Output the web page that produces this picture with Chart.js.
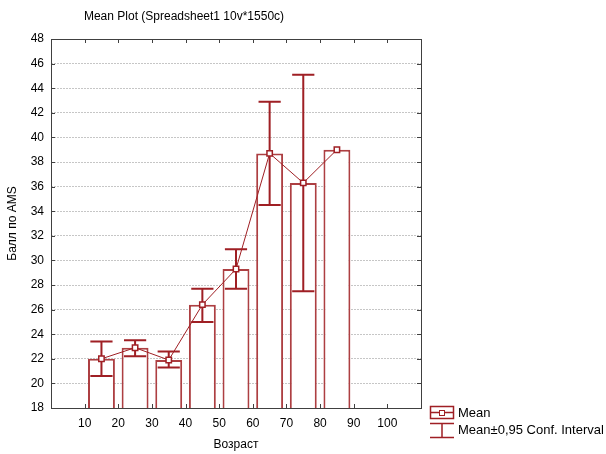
<!DOCTYPE html>
<html>
<head>
<meta charset="utf-8">
<script src="https://cdn.jsdelivr.net/npm/chart.js@4.4.1/dist/chart.umd.min.js"></script>
<style>
  body { margin: 0; background: #fff; }
  #wrap { width: 606px; height: 454px; }
</style>
</head>
<body>
<div id="wrap"><canvas id="meanPlot" width="606" height="454"></canvas></div>
<script>
// age groups (bar centres) and values
var ages = [15, 25, 35, 45, 55, 65, 75, 85];
var means = [22.0, 22.9, 21.9, 26.4, 29.3, 38.7, 36.3, 39.0];
var ciUpper = [23.4, 23.5, 22.6, 27.7, 30.9, 42.9, 45.1, null];
var ciLower = [20.6, 22.2, 21.3, 25.0, 27.7, 34.5, 27.5, null];
var xTicks = [10, 20, 30, 40, 50, 60, 70, 80, 90, 100];

var dark = '#9f1f24';
var barLine = '#ad3f42';
var font = { family: 'Liberation Sans, Arial, sans-serif', size: 12 };

var points = ages.map(function(a, i) { return { x: a, y: means[i] }; });

var framePlugin = {
  id: 'frame',
  beforeDatasetsDraw: function(chart) {
    var a = chart.chartArea, ctx = chart.ctx;
    var xs = chart.scales.x, ys = chart.scales.y;
    ctx.save();
    ctx.strokeStyle = '#404040';
    ctx.lineWidth = 1;
    ctx.beginPath();
    // inward tick marks
    ys.ticks.forEach(function(t) {
      var py = Math.round(ys.getPixelForValue(t.value)) + 0.5;
      ctx.moveTo(a.left, py); ctx.lineTo(a.left + 4, py);
      ctx.moveTo(a.right, py); ctx.lineTo(a.right - 4, py);
    });
    xs.ticks.forEach(function(t) {
      var px = Math.round(xs.getPixelForValue(t.value)) + 0.5;
      ctx.moveTo(px, a.top); ctx.lineTo(px, a.top + 4);
      ctx.moveTo(px, a.bottom); ctx.lineTo(px, a.bottom - 4);
    });
    ctx.stroke();
    ctx.strokeRect(Math.round(a.left) + 0.5, Math.round(a.top) + 0.5,
      Math.round(a.right - a.left), Math.round(a.bottom - a.top));
    ctx.restore();
  },
  afterDatasetDraw: function(chart, args) {
    if (args.index !== 0) return;
    var xs = chart.scales.x, ys = chart.scales.y, ctx = chart.ctx;
    ctx.save();
    ctx.strokeStyle = dark;
    ctx.lineWidth = 2;
    ctx.beginPath();
    ages.forEach(function(a, i) {
      if (ciUpper[i] == null) return;
      var px = xs.getPixelForValue(a);
      var x0 = xs.getPixelForValue(a - 3.3), x1 = xs.getPixelForValue(a + 3.3);
      var yu = ys.getPixelForValue(ciUpper[i]), yl = ys.getPixelForValue(ciLower[i]);
      ctx.moveTo(px, yu); ctx.lineTo(px, yl);
      ctx.moveTo(x0, yu); ctx.lineTo(x1, yu);
      ctx.moveTo(x0, yl); ctx.lineTo(x1, yl);
    });
    ctx.stroke();
    ctx.restore();
  },
  afterDraw: function(chart) {
    var ctx = chart.ctx;
    ctx.save();
    ctx.fillStyle = '#000';
    ctx.font = '12px ' + font.family;
    ctx.textBaseline = 'middle';
    ctx.textAlign = 'center';
    ctx.fillText('Mean Plot (Spreadsheet1 10v*1550c)', 184, 17);
    // legend
    ctx.textAlign = 'left';
    ctx.font = '13px ' + font.family;
    ctx.fillText('Mean', 458, 413);
    ctx.fillText('Mean\u00b10,95 Conf. Interval', 458, 430);
    ctx.strokeStyle = dark;
    ctx.lineWidth = 1.5;
    ctx.strokeRect(430.5, 406.5, 23, 12);
    ctx.beginPath();
    ctx.moveTo(430, 412.5); ctx.lineTo(454, 412.5);
    ctx.moveTo(430, 423.5); ctx.lineTo(454, 423.5);
    ctx.moveTo(442, 423.5); ctx.lineTo(442, 437.5);
    ctx.moveTo(430, 437.5); ctx.lineTo(454, 437.5);
    ctx.stroke();
    ctx.fillStyle = '#fff';
    ctx.fillRect(439, 410, 6, 6);
    ctx.lineWidth = 1;
    ctx.strokeRect(439.5, 410.5, 5, 5);
    ctx.restore();
  }
};

var ctx = document.getElementById('meanPlot').getContext('2d');
var chart = new Chart(ctx, {
  type: 'bar',
  data: {
    datasets: [
      {
        type: 'bar',
        label: 'Mean',
        data: points,
        backgroundColor: '#ffffff',
        borderColor: barLine,
        borderWidth: 2,
        barPercentage: 0.8,
        categoryPercentage: 1.0,
        order: 2
      },
      {
        type: 'line',
        label: 'Mean line',
        data: points,
        borderColor: dark,
        borderWidth: 1,
        pointStyle: 'rect',
        pointRadius: 3.8,
        pointBackgroundColor: '#ffffff',
        pointBorderColor: dark,
        pointBorderWidth: 1.5,
        tension: 0,
        order: 1
      }
    ]
  },
  options: {
    responsive: false,
    animation: false,
    layout: { padding: { top: 39, right: 185, bottom: 0, left: 0 } },
    plugins: {
      legend: { display: false },
      tooltip: { enabled: false }
    },
    scales: {
      x: {
        type: 'linear',
        min: 0,
        max: 110,
        offset: false,
        grid: { display: false, offset: false, drawTicks: false },
        border: { display: false },
        afterBuildTicks: function(scale) {
          scale.ticks = xTicks.map(function(v) { return { value: v }; });
        },
        afterFit: function(scale) { scale.height = 46; },
        ticks: { color: '#000', font: font, padding: 8, maxRotation: 0, autoSkip: false },
        title: { display: true, text: 'Возраст', color: '#000', font: font, padding: { top: 2, bottom: 2 } }
      },
      y: {
        min: 18,
        max: 48,
        grid: {
          drawTicks: false,
          color: function(c) {
            return (c.tick && (c.tick.value === 18 || c.tick.value === 48)) ? 'rgba(0,0,0,0)' : '#c6c6c6';
          },
          lineWidth: 1
        },
        border: { display: false, dash: [2, 1] },
        afterFit: function(scale) { scale.width = 51; },
        ticks: { stepSize: 2, color: '#000', font: font, padding: 7 },
        title: { display: true, text: 'Балл по AMS', color: '#000', font: font, padding: { top: 5, bottom: 2 } }
      }
    }
  },
  plugins: [framePlugin]
});
</script>
</body>
</html>
